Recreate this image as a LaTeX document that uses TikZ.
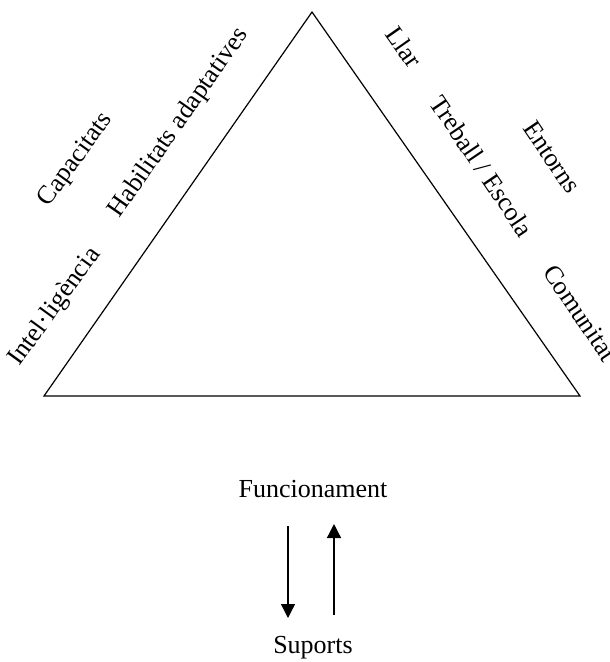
\documentclass[tikz,border=0pt]{standalone}
\usepackage{fontspec}
\setmainfont{Liberation Serif}
\usetikzlibrary{arrows.meta}
\begin{document}
\begin{tikzpicture}[x=1pt,y=-1pt,
  lbl/.style={inner sep=0pt,font=\fontsize{26}{30}\selectfont},
  edge/.style={line width=1.2pt},
  flow/.style={line width=1.3pt,-{Triangle[length=14pt,width=14pt]}}]
\useasboundingbox (0,0) rectangle (610,662);
\coordinate (A) at (312,12);
\coordinate (B) at (44,396);
\coordinate (C) at (580,396);
\draw[edge,line join=miter] (A) -- (B) -- (C) -- cycle;
\node[lbl,rotate=54] (int) at (55,307) {Intel·ligència};
\node[lbl,rotate=54] (cap) at (76,160) {Capacitats};
\node[lbl,rotate=55] (hab) at (179,123) {Habilitats  adaptatives};
\node[lbl,rotate=-55] (llar) at (404,47) {Llar};
\node[lbl,rotate=-56] (tre) at (482,166) {Treball / Escola};
\node[lbl,rotate=-56] (ent) at (552,157) {Entorns};
\node[lbl,rotate=-56] (com) at (580,313) {Comunitat};
\node[lbl] (fun) at (313,489) {Funcionament};
\node[lbl] (sup) at (313,648) {Suports};
\coordinate (d1) at (288,526);
\coordinate (d2) at (288,618);
\coordinate (u1) at (334,615);
\coordinate (u2) at (334,524);
\draw[flow] (d1) -- (d2);
\draw[flow] (u1) -- (u2);
\end{tikzpicture}
\end{document}
